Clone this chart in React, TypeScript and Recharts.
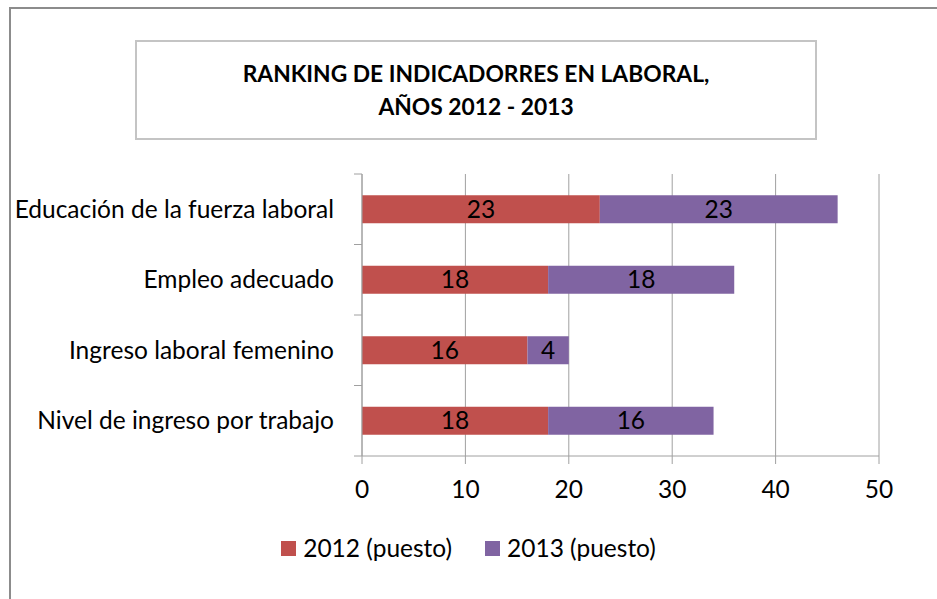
import React from 'react';
import { BarChart, Bar, XAxis, YAxis, CartesianGrid, LabelList, Legend } from 'recharts';

const categories = [
  'Educación de la fuerza laboral',
  'Empleo adecuado',
  'Ingreso laboral femenino',
  'Nivel de ingreso por trabajo',
];
const puesto2012 = [23, 18, 16, 18];
const puesto2013 = [23, 18, 4, 16];
const xTicks = [0, 10, 20, 30, 40, 50];
const seriesNames = ['2012 (puesto)', '2013 (puesto)'];
const seriesColors = ['#C0504D', '#8064A2'];

const data = categories.map((name, i) => ({
  name,
  y2012: puesto2012[i],
  y2013: puesto2013[i],
}));

const FONT = 'Lato, "Noto Sans", sans-serif';
const GRID = '#a0a0a0';
const FS = 24.5;

const CategoryTick = (props: any) => {
  const { x, y, payload, index } = props;
  const axisX = x + 28;
  const half = payload.offset || 0;
  return (
    <g>
      <text x={x} y={y} dy="0.35em" textAnchor="end" fontSize={FS} fill="#000" fontFamily={FONT}>
        {payload.value}
      </text>
      <line x1={axisX - 8} x2={axisX} y1={y - half} y2={y - half} stroke={GRID} />
      {index === categories.length - 1 && (
        <line x1={axisX - 8} x2={axisX} y1={y + half} y2={y + half} stroke={GRID} />
      )}
    </g>
  );
};

const LegendContent = () => (
  <div style={{ display: 'flex', justifyContent: 'center', gap: 33, fontFamily: FONT, fontSize: FS, lineHeight: '30px' }}>
    {seriesNames.map((n, i) => (
      <div key={n} style={{ display: 'flex', alignItems: 'center', gap: 7 }}>
        <span style={{ width: 15, height: 15, background: seriesColors[i], display: 'inline-block' }} />
        <span>{n}</span>
      </div>
    ))}
  </div>
);

export default function App() {
  return (
    <div style={{ position: 'absolute', left: 0, top: 0, width: 937, height: 599, overflow: 'hidden', background: '#fff' }}>
      <div
        style={{
          position: 'absolute',
          left: 9,
          top: 7,
          width: 1000,
          height: 700,
          border: '2px solid #8c8c8c',
        }}
      />
      <div
        style={{
          position: 'absolute',
          left: 135,
          top: 40,
          width: 678,
          height: 96,
          border: '2px solid #c4c4c4',
          display: 'flex',
          alignItems: 'center',
          justifyContent: 'center',
          textAlign: 'center',
          fontFamily: FONT,
          fontWeight: 'bold',
          fontSize: 22.8,
          lineHeight: '33px',
          color: '#000',
        }}
      >
        RANKING DE INDICADORRES EN LABORAL,
        <br />
        AÑOS 2012 - 2013
      </div>
      <BarChart
        width={937}
        height={599}
        data={data}
        layout="vertical"
        margin={{ top: 174, right: 58, bottom: 113, left: 0 }}
        barCategoryGap="30%"
      >
        <CartesianGrid horizontal={false} stroke={GRID} />
        <XAxis
          type="number"
          domain={[0, 50]}
          ticks={xTicks}
          height={30}
          tickSize={8}
          tickMargin={17}
          axisLine={{ stroke: GRID }}
          tickLine={{ stroke: GRID }}
          tick={{ fill: '#000', fontSize: FS, fontFamily: FONT }}
        />
        <YAxis
          type="category"
          dataKey="name"
          width={362}
          tickSize={8}
          tickMargin={20}
          axisLine={{ stroke: GRID }}
          tickLine={false}
          tick={<CategoryTick />}
        />
        <Legend
          verticalAlign="middle"
          layout="horizontal"
          content={<LegendContent />}
          wrapperStyle={{ top: 533, left: 0, width: 937 }}
        />
        <Bar dataKey="y2012" name={seriesNames[0]} stackId="a" fill={seriesColors[0]} isAnimationActive={false}>
          <LabelList dataKey="y2012" position="center" fill="#000" fontSize={FS} fontFamily={FONT} />
        </Bar>
        <Bar dataKey="y2013" name={seriesNames[1]} stackId="a" fill={seriesColors[1]} isAnimationActive={false}>
          <LabelList dataKey="y2013" position="center" fill="#000" fontSize={FS} fontFamily={FONT} />
        </Bar>
      </BarChart>
    </div>
  );
}
